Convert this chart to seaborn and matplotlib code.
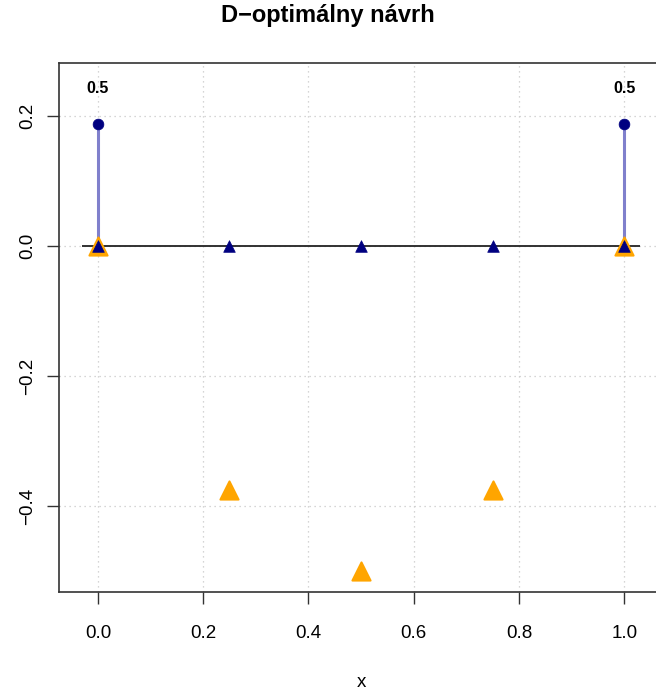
import matplotlib
matplotlib.use('agg')
import matplotlib.pyplot as plt
import seaborn as sns
import pandas as pd

# candidate points and sensitivity-like values
grid_x = [0.0, 0.25, 0.5, 0.75, 1.0]
grid_val = [0.0, -0.375, -0.5, -0.375, 0.0]
grid_zero = [0.0, 0.0, 0.0, 0.0, 0.0]

# D-optimal design: support points and weights
support = [0.0, 1.0]
weights = [0.5, 0.5]
stem_height = [0.1875, 0.1875]
label_y = [0.242, 0.242]

x_ticks = [0.0, 0.2, 0.4, 0.6, 0.8, 1.0]
y_ticks = [-0.4, -0.2, 0.0, 0.2]

sns.set_style('white')
plt.rcParams['font.family'] = ['Liberation Sans', 'DejaVu Sans']
plt.rcParams['text.color'] = 'black'
plt.rcParams['xtick.color'] = 'black'
plt.rcParams['ytick.color'] = 'black'
plt.rcParams['axes.labelcolor'] = 'black'

fig = plt.figure(figsize=(6.56, 6.9), dpi=100)
ax = fig.add_axes([0.0899, 0.142, 0.921, 0.7667])

df_grid = pd.DataFrame({'x': grid_x, 'val': grid_val, 'zero': grid_zero})
df_des = pd.DataFrame({'x': support, 'h': stem_height, 'w': weights, 'ly': label_y})

ax.set_xlim(-0.074, 1.074)
ax.set_ylim(-0.532, 0.2815)
ax.set_xticks(x_ticks)
ax.set_yticks(y_ticks)
ax.grid(True, color='#c8c8c8', ls=(0, (1, 3)), lw=0.9)
ax.set_axisbelow(True)

ax.hlines(0, -0.03, 1.03, color='#222222', lw=1.3, zorder=2)
ax.vlines(df_des['x'], 0, df_des['h'], color='#8080cc', lw=2.2, zorder=3)

sns.scatterplot(data=df_grid, x='x', y='val', marker='^', s=170, color='#FFA500',
                edgecolor='#FFA500', linewidth=1.5, ax=ax, zorder=4)
sns.scatterplot(data=df_grid, x='x', y='zero', marker='^', s=70, color='#000080',
                edgecolor='#000080', linewidth=0.5, ax=ax, zorder=5)
sns.scatterplot(data=df_des, x='x', y='h', marker='o', s=60, color='#000080',
                edgecolor='#000080', linewidth=0.5, ax=ax, zorder=5)

for xv, yv, wv in zip(df_des['x'], df_des['ly'], df_des['w']):
    ax.text(xv, yv, f'{wv}', ha='center', va='center', fontsize=11.5, fontweight='bold')

ax.set_xticklabels([f'{t:.1f}' for t in x_ticks], fontsize=13.5)
ax.set_yticklabels([f'{t:.1f}'.replace('-', '\u2212') for t in y_ticks], fontsize=13.5,
                   rotation=90, va='center')
ax.tick_params(axis='both', length=8.6, width=1, color='#333333',
               bottom=True, left=True)
ax.tick_params(axis='x', pad=15)
ax.tick_params(axis='y', pad=8)

for s in ax.spines.values():
    s.set_color('#333333')
    s.set_linewidth(1.2)

ax.set_xlabel('x', fontsize=13.5, labelpad=23)
ax.set_ylabel('')
fig.text(0.5, 0.978, 'D\u2212optimálny návrh', ha='center', va='center',
         fontsize=17, fontweight='bold')

fig.savefig('out.png', dpi=100)
